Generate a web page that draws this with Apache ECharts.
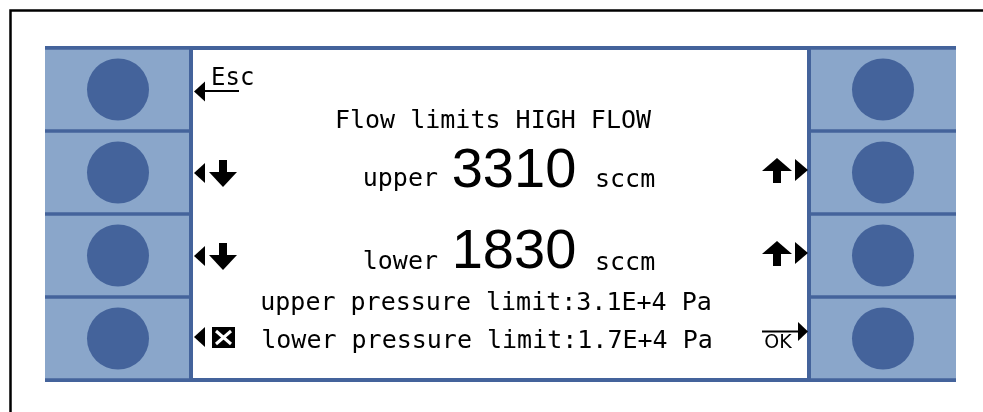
<!DOCTYPE html>
<html><head><meta charset="utf-8">
<script src="https://cdn.jsdelivr.net/npm/echarts@6/dist/echarts.min.js"></script>
<style>html,body{margin:0;padding:0;background:#fff}#c{width:983px;height:412px}</style>
</head><body><div id="c"></div>
<script>
// ---- data ----
const buttonRows = ['F1', 'F2', 'F3', 'F4'];
const buttonSides = ['left', 'right'];
const screenTitle = 'Flow limits HIGH FLOW';
const flowLabels = ['upper', 'lower'];
const flowValues = [3310, 1830];
const flowUnit = 'sccm';
const pressureLabels = ['upper pressure limit', 'lower pressure limit'];
const pressureValues = ['3.1E+4', '1.7E+4'];
const pressureUnit = 'Pa';
const escLabel = 'Esc';
const okLabel = 'OK';

// ---- layout / style ----
const LIGHT = '#8aa6ca';
const DARK = '#44639b';
const X_MAX = 911;
const SIDE_SPAN = { left: [0, 144], right: [766, 911] };
const CIRCLE_X = { left: 73, right: 838 };
const MONO = '"DejaVu Sans Mono", monospace';
const BIG = '"Liberation Sans", Arial, sans-serif';

const cellData = [];
const circleLeft = [];
const circleRight = [];
buttonSides.forEach((s, si) => buttonRows.forEach((r, ri) => cellData.push([si, ri])));
buttonRows.forEach(r => { circleLeft.push([CIRCLE_X.left, r]); circleRight.push([CIRCLE_X.right, r]); });

function txt(text, x, y, font, align, extra) {
  return Object.assign({ type: 'text', z: 20, style: { text: text, x: x, y: y, font: font, fill: '#000', textAlign: align || 'center', textVerticalAlign: 'middle' } }, extra || {});
}
function poly(points) { return { type: 'polygon', z: 20, shape: { points: points }, style: { fill: '#000' } }; }
function rect(x, y, w, h, fill, z) { return { type: 'rect', z: z || 20, shape: { x: x, y: y, width: w, height: h }, style: { fill: fill } }; }
function line(x1, y1, x2, y2, stroke, w) { return { type: 'line', z: 21, shape: { x1: x1, y1: y1, x2: x2, y2: y2 }, style: { stroke: stroke, lineWidth: w } }; }

function leftArrowDown(cy) {
  return [
    poly([[194, cy], [205, cy - 10], [205, cy + 10]]),
    rect(219, cy - 13, 8, 13, '#000'),
    poly([[209, cy - 1], [237, cy - 1], [223, cy + 14]])
  ];
}
function rightArrowUp(cy) {
  return [
    poly([[762, cy + 1], [792, cy + 1], [777, cy - 12]]),
    rect(773, cy, 8, 13, '#000'),
    poly([[795, cy - 11], [795, cy + 11], [808, cy]])
  ];
}

const graphics = [
  { type: 'rect', z: 0, shape: { x: 10.5, y: 10.5, width: 1000, height: 1000 }, style: { fill: 'none', stroke: '#000', lineWidth: 2.5 } },
  rect(45, 46, 911, 336, DARK, 1),
  rect(193, 50, 614, 328, '#fff', 2),
  // Esc
  txt(escLabel, 211, 78.5, '24px ' + MONO, 'left'),
  poly([[194, 91.5], [205, 81.5], [205, 101.5]]),
  line(204, 91, 239, 91, '#000', 2),
  // title
  txt(screenTitle, 493, 121, '25px ' + MONO),
  // flow rows
  txt(flowLabels[0], 438, 179.5, '25px ' + MONO, 'right'),
  txt(String(flowValues[0]), 514, 171.5, '56px ' + BIG),
  txt(flowUnit, 595, 180, '25px ' + MONO, 'left'),
  txt(flowLabels[1], 438, 262.5, '25px ' + MONO, 'right'),
  txt(String(flowValues[1]), 514, 252.5, '56px ' + BIG),
  txt(flowUnit, 595, 263, '25px ' + MONO, 'left'),
  // pressure lines
  txt(pressureLabels[0] + ':' + pressureValues[0] + ' ' + pressureUnit, 486, 303.5, '25px ' + MONO),
  txt(pressureLabels[1] + ':' + pressureValues[1] + ' ' + pressureUnit, 487, 341.5, '25px ' + MONO),
  // row 4 left icon
  poly([[194, 337], [205, 327], [205, 347]]),
  rect(212, 327, 23, 21, '#000'),
  line(216, 331, 231, 344, '#fff', 3),
  line(231, 331, 216, 344, '#fff', 3),
  // OK
  line(762, 331.5, 799, 331.5, '#000', 2),
  poly([[798, 322], [798, 341], [808, 331.5]]),
  txt(okLabel, 778, 343, '19px "DejaVu Sans", sans-serif')
].concat(leftArrowDown(173), leftArrowDown(256), rightArrowUp(170), rightArrowUp(253));

const chart = echarts.init(document.getElementById('c'), null, { renderer: 'canvas' });
chart.setOption({
  animation: false,
  backgroundColor: '#fff',
  grid: { left: 45, top: 48, width: 911, height: 332 },
  xAxis: { type: 'value', min: 0, max: X_MAX, show: false },
  yAxis: { type: 'category', data: buttonRows, inverse: true, show: false },
  graphic: graphics,
  series: [
    {
      type: 'custom', z: 3, data: cellData, encode: { x: 0, y: 1 },
      renderItem: function (params, api) {
        const side = buttonSides[api.value(0)];
        const row = api.value(1);
        const c = api.coord([0, row]);
        const band = api.size([0, 1])[1];
        const x0 = api.coord([SIDE_SPAN[side][0], row])[0];
        const x1 = api.coord([SIDE_SPAN[side][1], row])[0];
        const h = band - 3.5;
        return { type: 'rect', shape: { x: x0, y: c[1] - h / 2, width: x1 - x0, height: h }, style: { fill: LIGHT } };
      }
    },
    { type: 'scatter', z: 4, data: circleLeft, symbol: 'circle', symbolSize: 62, itemStyle: { color: DARK, opacity: 1 }, silent: true },
    { type: 'scatter', z: 4, data: circleRight, symbol: 'circle', symbolSize: 62, itemStyle: { color: DARK, opacity: 1 }, silent: true }
  ]
});
</script></body></html>
